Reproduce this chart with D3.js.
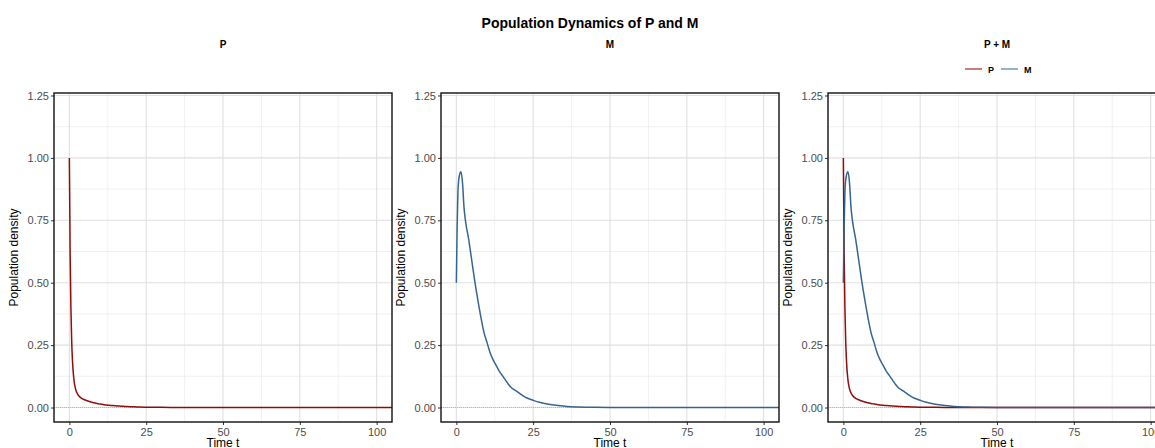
<!DOCTYPE html>
<html>
<head>
<meta charset="utf-8">
<script src="https://cdn.jsdelivr.net/npm/d3@7"></script>
<style>
  body { margin: 0; background: #fff; }
  svg { font-family: "Liberation Sans", Arial, sans-serif; }
</style>
</head>
<body>
<div id="chart"></div>
<script>
var svgWidth = 1155;
var svgHeight = 448;

// time points and population values
var timeT = [0, 0.25, 0.5, 0.75, 1, 1.5, 2, 2.5, 3, 4, 5, 6, 7, 8, 9, 10, 11, 12, 13, 14, 15, 16, 17, 18, 19, 20, 21, 22, 23, 25, 27, 30, 33, 36, 40, 45, 50, 60, 70, 80, 90, 100, 110];
var popP = [1.0, 0.62, 0.40, 0.27, 0.19, 0.11, 0.075, 0.058, 0.048, 0.037, 0.031, 0.026, 0.022, 0.019, 0.016, 0.014, 0.012, 0.010, 0.009, 0.008, 0.007, 0.006, 0.005, 0.0045, 0.004, 0.0035, 0.003, 0.0025, 0.002, 0.0015, 0.0012, 0.0008, 0.0005, 0.0003, 0.0002, 0.0001, 0.0001, 0, 0, 0, 0, 0, 0];
var popM = [0.50, 0.72, 0.86, 0.91, 0.93, 0.945, 0.90, 0.80, 0.745, 0.675, 0.59, 0.505, 0.43, 0.36, 0.30, 0.26, 0.218, 0.19, 0.168, 0.145, 0.128, 0.11, 0.092, 0.078, 0.07, 0.062, 0.053, 0.045, 0.038, 0.029, 0.021, 0.013, 0.008, 0.004, 0.002, 0.0008, 0.0003, 0.0001, 0, 0, 0, 0, 0];

var xTicks = [0, 25, 50, 75, 100];
var yTicks = [0, 0.25, 0.5, 0.75, 1, 1.25];
var xMinor = [12.5, 37.5, 62.5, 87.5];
var yMinor = [0.125, 0.375, 0.625, 0.875, 1.125];
var panelTitles = ["P", "M", "P + M"];
var seriesNames = ["P", "M"];
var seriesColors = ["#8b0000", "#2b5d8c"];
var legendColors = ["#b8524f", "#7597b8"];

var panelLefts = [54, 441, 828];
var panelW = 338;
var panelTop = 93;
var panelH = 329;

var svg = d3.select("#chart")
    .append("svg")
    .attr("width", svgWidth)
    .attr("height", svgHeight);

svg.append("defs").append("clipPath")
    .attr("id", "panel-clip")
    .append("rect")
    .attr("width", panelW)
    .attr("height", panelH);

svg.append("text")
    .attr("x", 590)
    .attr("y", 28)
    .attr("text-anchor", "middle")
    .attr("font-size", "14px")
    .attr("font-weight", "bold")
    .text("Population Dynamics of P and M");

var xScale = d3.scaleLinear().domain([-5, 105]).range([0, panelW]);
var yScale = d3.scaleLinear().domain([-0.058, 1.26]).range([panelH, 0]);

var line = d3.line()
    .x(d => xScale(d[0]))
    .y(d => yScale(d[1]))
    .curve(d3.curveMonotoneX);

var seriesData = [
    timeT.map((t, i) => [t, popP[i]]),
    timeT.map((t, i) => [t, popM[i]])
];

var panelSeries = [[0], [1], [0, 1]];

panelLefts.forEach(function (left, p) {
    var g = svg.append("g").attr("transform", `translate(${left}, ${panelTop})`);

    // panel title
    svg.append("text")
        .attr("x", left + panelW / 2)
        .attr("y", 48)
        .attr("text-anchor", "middle")
        .attr("font-size", "10px")
        .attr("font-weight", "bold")
        .text(panelTitles[p]);

    // minor grid
    g.selectAll(".xminor").data(xMinor).enter().append("line")
        .attr("x1", d => xScale(d)).attr("x2", d => xScale(d))
        .attr("y1", 0).attr("y2", panelH)
        .attr("stroke", "#ebebeb").attr("stroke-width", 0.7);
    g.selectAll(".yminor").data(yMinor).enter().append("line")
        .attr("y1", d => yScale(d)).attr("y2", d => yScale(d))
        .attr("x1", 0).attr("x2", panelW)
        .attr("stroke", "#ebebeb").attr("stroke-width", 0.7);

    // major grid
    g.selectAll(".xmajor").data(xTicks).enter().append("line")
        .attr("x1", d => xScale(d)).attr("x2", d => xScale(d))
        .attr("y1", 0).attr("y2", panelH)
        .attr("stroke", "#e0e0e0").attr("stroke-width", 1.1);
    g.selectAll(".ymajor").data(yTicks).enter().append("line")
        .attr("y1", d => yScale(d)).attr("y2", d => yScale(d))
        .attr("x1", 0).attr("x2", panelW)
        .attr("stroke", "#e0e0e0").attr("stroke-width", 1.1);

    // dotted zero line
    g.append("line")
        .attr("x1", 0).attr("x2", panelW)
        .attr("y1", yScale(0)).attr("y2", yScale(0))
        .attr("stroke", "#9a9a9a").attr("stroke-width", 0.6)
        .attr("stroke-dasharray", "1,1");

    // lines
    var lines = g.append("g").attr("clip-path", "url(#panel-clip)");
    panelSeries[p].forEach(function (s) {
        lines.append("path")
            .datum(seriesData[s])
            .attr("fill", "none")
            .attr("stroke", seriesColors[s])
            .attr("stroke-width", 1.5)
            .attr("stroke-opacity", 0.95)
            .attr("d", line);
    });

    // axes
    var xAxis = g.append("g")
        .attr("transform", `translate(0, ${panelH})`)
        .call(d3.axisBottom(xScale).tickValues(xTicks).tickSize(3).tickPadding(3));
    var yAxis = g.append("g")
        .call(d3.axisLeft(yScale).tickValues(yTicks).tickSize(3).tickPadding(2).tickFormat(d3.format(".2f")));

    [xAxis, yAxis].forEach(function (ax) {
        ax.select(".domain").remove();
        ax.selectAll(".tick line").attr("stroke", "#333").attr("stroke-width", 1);
        ax.selectAll(".tick text")
            .attr("fill", "#4d4d4d")
            .attr("font-size", "11px")
            .attr("font-family", "Liberation Sans, Arial, sans-serif");
    });

    // border
    g.append("rect")
        .attr("x", 0).attr("y", 0)
        .attr("width", panelW).attr("height", panelH)
        .attr("fill", "none")
        .attr("stroke", "#111")
        .attr("stroke-width", 1.4);

    // axis titles
    g.append("text")
        .attr("x", panelW / 2)
        .attr("y", panelH + 25)
        .attr("text-anchor", "middle")
        .attr("font-size", "12px")
        .text("Time t");
    g.append("text")
        .attr("transform", `translate(${-36}, ${panelH / 2}) rotate(-90)`)
        .attr("text-anchor", "middle")
        .attr("font-size", "12px")
        .text("Population density");
});

// legend for the combined panel
var legend = svg.append("g").attr("transform", "translate(965, 69)");
var legendX = [0, 36];
seriesNames.forEach(function (name, i) {
    legend.append("line")
        .attr("x1", legendX[i]).attr("x2", legendX[i] + 17)
        .attr("y1", 0).attr("y2", 0)
        .attr("stroke", legendColors[i])
        .attr("stroke-width", 1.5);
    legend.append("text")
        .attr("x", legendX[i] + 23)
        .attr("y", 3.5)
        .attr("font-size", "9px")
        .attr("font-weight", "bold")
        .text(name);
});
</script>
</body>
</html>
